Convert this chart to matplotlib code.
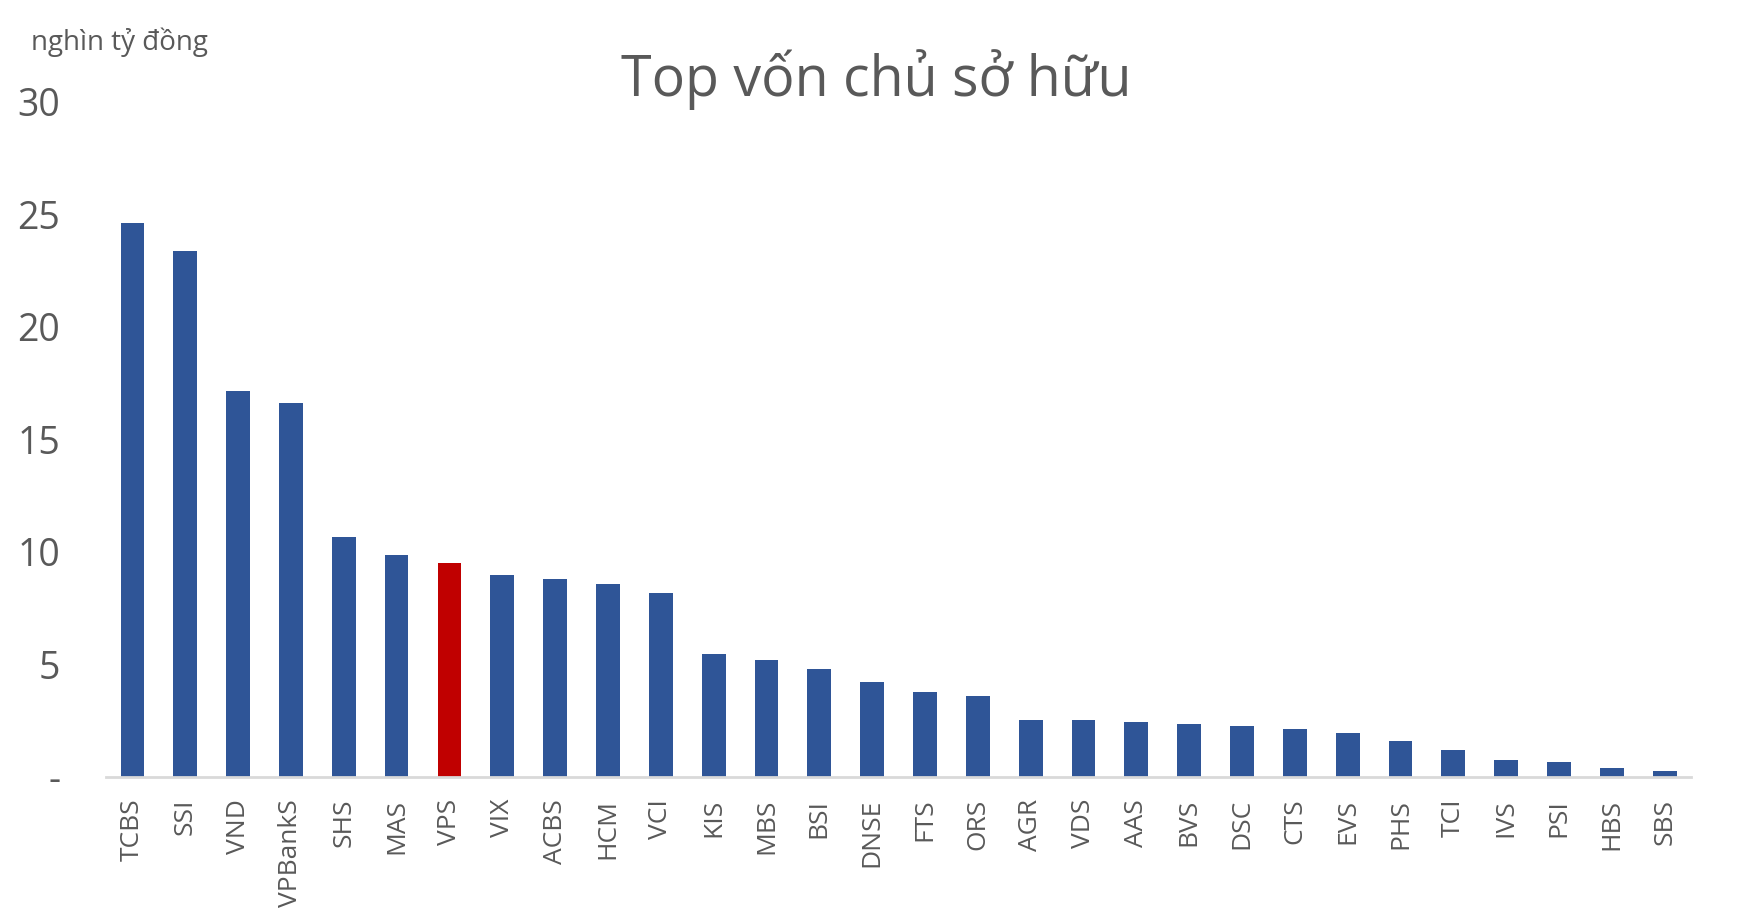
import numpy as np
import matplotlib.pyplot as plt

# Du lieu: von chu so huu (nghin ty dong)
cong_ty = ['TCBS', 'SSI', 'VND', 'VPBankS', 'SHS', 'MAS', 'VPS', 'VIX', 'ACBS', 'HCM',
           'VCI', 'KIS', 'MBS', 'BSI', 'DNSE', 'FTS', 'ORS', 'AGR', 'VDS', 'AAS',
           'BVS', 'DSC', 'CTS', 'EVS', 'PHS', 'TCI', 'IVS', 'PSI', 'HBS', 'SBS']
von_csh = [24.6, 23.35, 17.14, 16.6, 10.64, 9.85, 9.5, 8.95, 8.77, 8.56,
           8.15, 5.44, 5.17, 4.8, 4.2, 3.75, 3.6, 2.5, 2.52, 2.42,
           2.36, 2.23, 2.1, 1.93, 1.59, 1.19, 0.74, 0.64, 0.39, 0.24]
noi_bat = 'VPS'
y_ticks = [0, 5, 10, 15, 20, 25, 30]
y_labels = ['-', '5', '10', '15', '20', '25', '30']

xanh = '#2F5597'
do = '#C00000'
xam = '#595959'
font = ['Open Sans', 'DejaVu Sans']
plt.rcParams['font.family'] = font

fig = plt.figure(figsize=(17.38, 9.19), dpi=100)
ax = fig.add_axes([0.061, 0.1549, 0.912, 0.7344])

x = np.arange(len(cong_ty))
mau = [do if c == noi_bat else xanh for c in cong_ty]
ax.bar(x, von_csh, width=0.45, color=mau, zorder=2)

ax.set_xlim(-0.5, len(cong_ty) - 0.5)
ax.set_ylim(0, 30)
ax.set_yticks(y_ticks)
ax.set_yticklabels(y_labels, fontsize=27, color=xam)
ax.set_xticks(x)
ax.set_xticklabels(cong_ty, rotation=90, fontsize=19, color=xam)
ax.tick_params(axis='y', length=0, pad=33)
ax.tick_params(axis='x', length=0, pad=16)

for s in ['left', 'right', 'top']:
    ax.spines[s].set_visible(False)
ax.spines['bottom'].set_color('#D9D9D9')
ax.spines['bottom'].set_linewidth(2)

fig.text(0.504, 0.895, 'Top vốn chủ sở hữu', ha='center', va='baseline',
         fontsize=40, color=xam)
fig.text(0.018, 0.946, 'nghìn tỷ đồng', ha='left', va='baseline',
         fontsize=20, color=xam)

fig.savefig('out.png', dpi=100)
